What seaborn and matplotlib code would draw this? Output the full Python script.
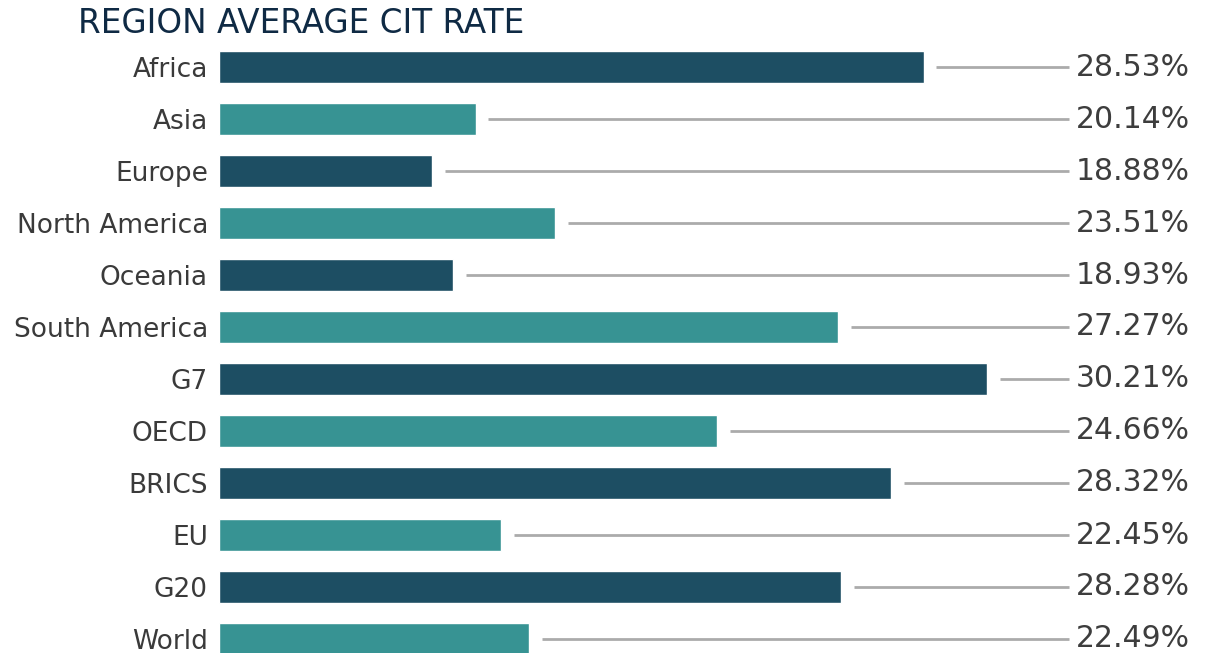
import numpy as np
import pandas as pd
import seaborn as sns
import matplotlib.pyplot as plt
import matplotlib.transforms as mtransforms

regions = ["Africa", "Asia", "Europe", "North America", "Oceania", "South America",
           "G7", "OECD", "BRICS", "EU", "G20", "World"]
# bar lengths as drawn (relative units, 100 = full plot width)
bar_lengths = [82.9, 30.2, 25.1, 39.5, 27.5, 72.8, 90.4, 58.6, 79.1, 33.2, 73.2, 36.5]
rate_labels = ["28.53%", "20.14%", "18.88%", "23.51%", "18.93%", "27.27%",
               "30.21%", "24.66%", "28.32%", "22.45%", "28.28%", "22.49%"]

dark = "#1d4e63"
teal = "#379393"
palette = [dark if i % 2 == 0 else teal for i in range(len(regions))]

df = pd.DataFrame({"region": regions, "length": bar_lengths})

sns.set_style("white")
plt.rcParams["font.family"] = ["DejaVu Sans"]

fig = plt.figure(figsize=(12.07, 6.53), dpi=100)
ax = fig.add_axes([219 / 1207, 0, 850 / 1207, 1 - 41 / 653])

sns.barplot(data=df, x="length", y="region", hue="region", palette=palette,
            width=0.615, legend=False, ax=ax, saturation=1)

ax.set_xlim(0, 100)
ax.set_ylim((653 - 67) / 52, -0.5)
sns.despine(ax=ax, left=True, bottom=True)
ax.set_xticks([])
ax.set_xlabel("")
ax.set_ylabel("")
ax.tick_params(axis="y", length=0, pad=8, labelsize=19, labelcolor="#3a3a3a")

# leader lines and value labels
trans = mtransforms.blended_transform_factory(fig.transFigure, ax.transData)
for i, (length, lab) in enumerate(zip(bar_lengths, rate_labels)):
    ax.plot([length + 1.5, 100], [i, i], color="#ababab", lw=2,
            solid_capstyle="butt", clip_on=False)
    ax.text(1190 / 1207, i, lab, transform=trans, ha="right", va="center",
            fontsize=21.5, color="#3d3d3d")

fig.text(78 / 1207, 1 - 7 / 653, "REGION AVERAGE CIT RATE", ha="left", va="top",
         fontsize=23.5, color="#0f2a44")

fig.savefig("out.png", dpi=100)
